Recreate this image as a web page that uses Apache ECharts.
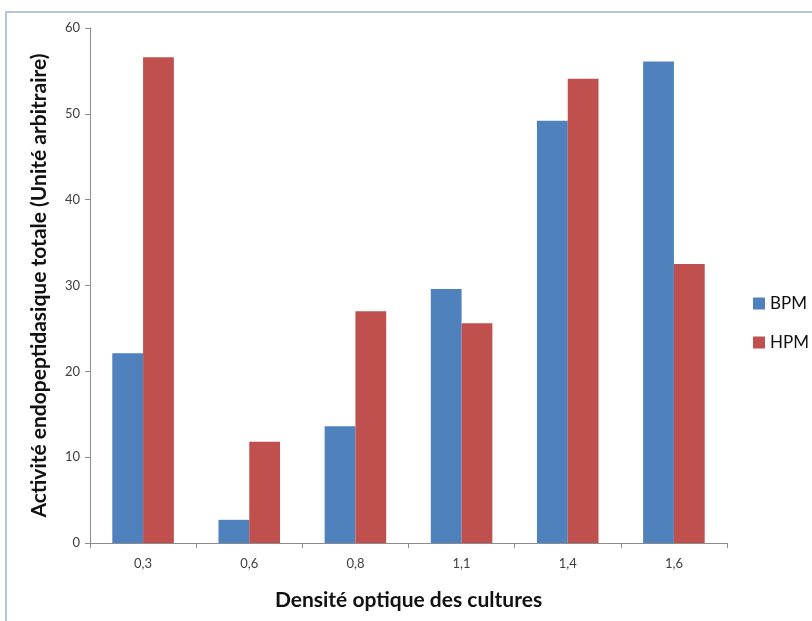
<!DOCTYPE html>
<html><head><meta charset="utf-8">
<script src="https://cdn.jsdelivr.net/npm/echarts@6/dist/echarts.min.js"></script>
<style>html,body{margin:0;padding:0;background:#fff}#c{width:812px;height:621px}</style>
</head><body><div id="c"></div>
<script>
const categories = ['0,3','0,6','0,8','1,1','1,4','1,6'];
const bpm = [22.1, 2.7, 13.6, 29.6, 49.2, 56.1];
const hpm = [56.6, 11.8, 27.0, 25.6, 54.1, 32.5];
const seriesNames = ['BPM','HPM'];
const yTitle = 'Activité endopeptidasique totale (Unité arbitraire)';
const xTitle = 'Densité optique des cultures';

const chart = echarts.init(document.getElementById('c'), null, {renderer:'canvas'});
const font = 'Lato, "Open Sans", sans-serif';
chart.setOption({
  animation:false,
  backgroundColor:'#fff',
  graphic:[{type:'rect',shape:{x:6,y:12,width:900,height:700},style:{fill:'none',stroke:'#9bb7cc',lineWidth:1.5},z:-1}],
  grid:{left:90,right:85,top:28,bottom:78},
  legend:{orient:'vertical',left:748,top:290,itemWidth:12,itemHeight:12,itemGap:22,
    icon:'rect',textStyle:{fontFamily:font,fontSize:17,color:'#111'},data:seriesNames},
  xAxis:{type:'category',data:categories,
    axisLine:{lineStyle:{color:'#8c8c8c'}},
    axisTick:{show:true,length:5,lineStyle:{color:'#8c8c8c'}},
    axisLabel:{fontFamily:font,fontSize:13,color:'#404040',margin:14},
    name:xTitle,nameLocation:'middle',nameGap:47,
    nameTextStyle:{fontFamily:font,fontSize:21,fontWeight:'bold',color:'#111'}},
  yAxis:{type:'value',min:0,max:60,interval:10,
    splitLine:{show:false},
    axisLine:{show:true,lineStyle:{color:'#8c8c8c'}},
    axisTick:{show:true,length:5,lineStyle:{color:'#8c8c8c'}},
    axisLabel:{fontFamily:font,fontSize:13,color:'#404040',margin:10},
    name:yTitle,nameLocation:'middle',nameGap:40,nameRotate:90,
    nameTextStyle:{fontFamily:font,fontSize:21,fontWeight:'bold',color:'#111'}},
  series:[
    {name:seriesNames[0],type:'bar',data:bpm,barGap:'0%',barCategoryGap:'42%',itemStyle:{color:'#4f81bd'}},
    {name:seriesNames[1],type:'bar',data:hpm,barGap:'0%',barCategoryGap:'42%',itemStyle:{color:'#c0504d'}}
  ]
});
</script></body></html>
